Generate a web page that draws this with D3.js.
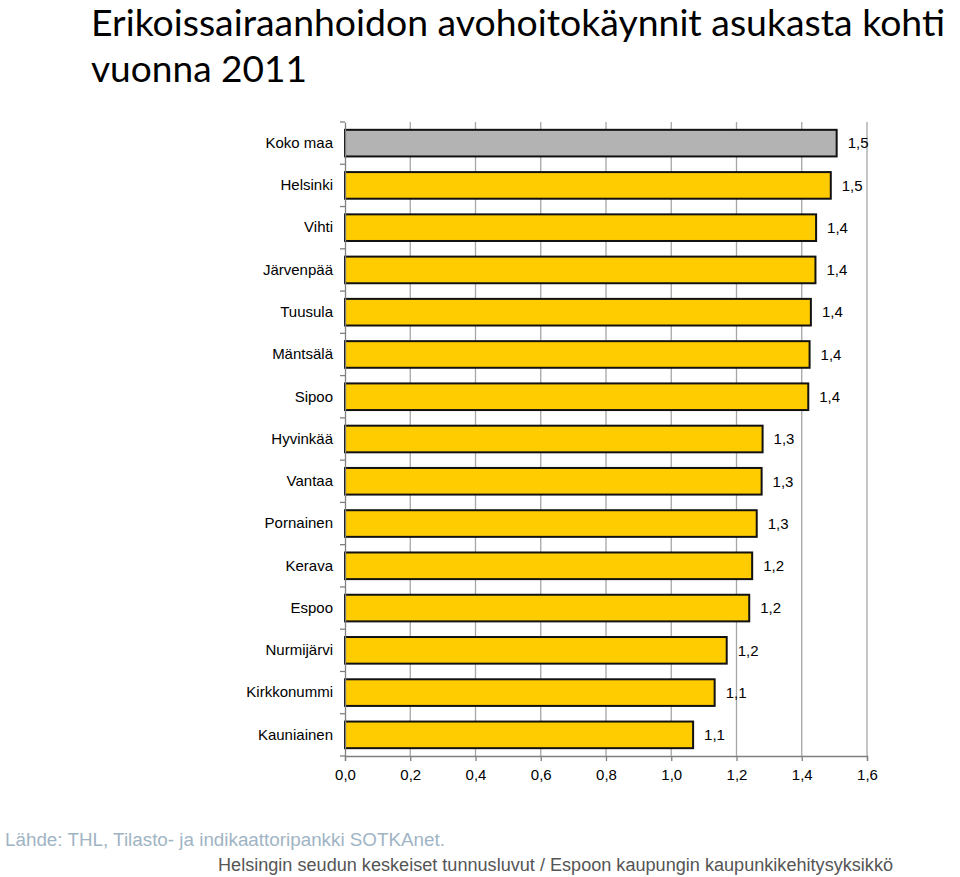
<!DOCTYPE html>
<html>
<head>
<meta charset="utf-8">
<script src="https://cdn.jsdelivr.net/npm/d3@7"></script>
<style>
  html, body { margin: 0; padding: 0; background: #fff; }
  svg { display: block; }
</style>
</head>
<body>
<svg id="chart" width="960" height="877"></svg>
<script>
const categories = ["Koko maa","Helsinki","Vihti","Järvenpää","Tuusula","Mäntsälä","Sipoo","Hyvinkää","Vantaa","Pornainen","Kerava","Espoo","Nurmijärvi","Kirkkonummi","Kauniainen"];
const values = [1.507,1.489,1.444,1.442,1.428,1.424,1.420,1.280,1.277,1.262,1.248,1.239,1.170,1.133,1.067];
const xTicks = [0,0.2,0.4,0.6,0.8,1.0,1.2,1.4,1.6];
const titleLines = ["Erikoissairaanhoidon avohoitokäynnit asukasta kohti","vuonna 2011"];
const sourceText = "Lähde: THL, Tilasto- ja indikaattoripankki SOTKAnet.";
const creditText = "Helsingin seudun keskeiset tunnusluvut / Espoon kaupungin kaupunkikehitysyksikkö";

(function () {
const svg = d3.select("#chart");
const fmt = v => d3.format(".1f")(v).replace(".", ",");
const font = "'Liberation Sans', Arial, sans-serif";

const pLeft = 345, pRight = 867, pTop = 122, pBottom = 756;
const x = d3.scaleLinear().domain([0, 1.6]).range([pLeft, pRight]);
const y = d3.scaleBand().domain(categories).range([pTop, pBottom]).paddingInner(0.37).paddingOuter(0.185);
const yb = d3.scaleBand().domain(categories).range([pTop, pBottom]);

// title
const title = svg.append("g").attr("font-family", "Lato, 'Open Sans', sans-serif").attr("font-size", 36).attr("fill", "#000");
title.append("text").attr("x", 91).attr("y", 36).attr("textLength", 854).attr("lengthAdjust", "spacingAndGlyphs").text(titleLines[0]);
title.append("text").attr("x", 91).attr("y", 82).attr("textLength", 216).attr("lengthAdjust", "spacingAndGlyphs").text(titleLines[1]);

// gridlines
svg.append("g").selectAll("line").data(xTicks.slice(1)).join("line")
  .attr("x1", d => x(d)).attr("x2", d => x(d))
  .attr("y1", pTop).attr("y2", pBottom)
  .attr("stroke", "#a6a6a6").attr("stroke-width", 1.3);

// bars
svg.append("g").selectAll("rect").data(categories).join("rect")
  .attr("x", x(0)).attr("y", d => y(d))
  .attr("width", (d, i) => x(values[i]) - x(0))
  .attr("height", y.bandwidth())
  .attr("fill", (d, i) => i === 0 ? "#b3b3b3" : "#ffcc00")
  .attr("stroke", "#111").attr("stroke-width", 2);

// value labels
svg.append("g").attr("font-family", font).attr("font-size", 15).attr("fill", "#000")
  .selectAll("text").data(categories).join("text")
  .attr("x", (d, i) => x(values[i]) + 11)
  .attr("y", d => y(d) + y.bandwidth() / 2)
  .attr("dy", "0.35em")
  .text((d, i) => fmt(values[i]));

// y axis
const yAxis = d3.axisLeft(yb).tickSize(0).tickPadding(12);
const ya = svg.append("g").attr("transform", `translate(${pLeft},0)`).call(yAxis);
ya.select(".domain").attr("stroke", "#808080").attr("stroke-width", 1.3);
ya.selectAll("text").attr("font-family", font).attr("font-size", 15).attr("fill", "#000");
const boundaries = categories.map(c => yb(c)).concat([pBottom]);
svg.append("g").selectAll("line").data(boundaries).join("line")
  .attr("x1", pLeft - 5).attr("x2", pLeft).attr("y1", d => d).attr("y2", d => d)
  .attr("stroke", "#808080").attr("stroke-width", 1.3);

// x axis
const xAxis = d3.axisBottom(x).tickValues(xTicks).tickSize(5).tickPadding(8).tickFormat(fmt);
const xa = svg.append("g").attr("transform", `translate(0,${pBottom})`).call(xAxis);
xa.select(".domain").attr("stroke", "#808080").attr("stroke-width", 1.3);
xa.selectAll(".tick line").attr("stroke", "#808080").attr("stroke-width", 1.3);
xa.selectAll("text").attr("font-family", font).attr("font-size", 15).attr("fill", "#000");

// footer
svg.append("text").attr("x", 5).attr("y", 846)
  .attr("font-family", font).attr("font-size", 18)
  .attr("fill", "#9fb4c4").attr("textLength", 440).attr("lengthAdjust", "spacingAndGlyphs").text(sourceText);
svg.append("text").attr("x", 218).attr("y", 871)
  .attr("font-family", font).attr("font-size", 18)
  .attr("fill", "#555").attr("textLength", 675).attr("lengthAdjust", "spacingAndGlyphs").text(creditText);
})();
</script>
</body>
</html>
